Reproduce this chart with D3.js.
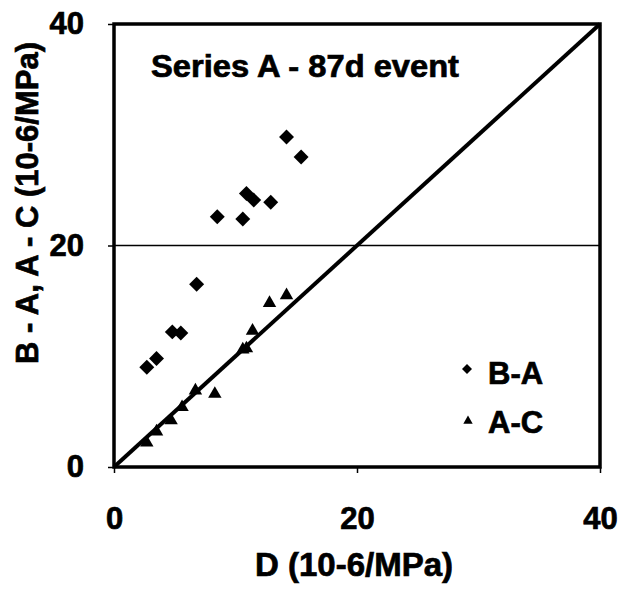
<!DOCTYPE html>
<html>
<head>
<meta charset="utf-8">
<script src="https://cdn.jsdelivr.net/npm/d3@7"></script>
<style>
  body { margin: 0; background: #fff; }
  text { font-family: "Liberation Sans", Arial, sans-serif; font-weight: bold; fill: #000; stroke: #000; stroke-width: 0.7px; }
</style>
</head>
<body>
<svg width="619" height="599"></svg>
<script>
// B-A series (diamonds)
const baD = [2.7, 3.5, 4.8, 5.5, 6.8, 8.5, 10.6, 10.9, 11.5, 12.9, 14.2, 15.4];
const baV = [9.0, 9.8, 12.2, 12.1, 16.5, 22.6, 22.4, 24.7, 24.1, 23.9, 29.8, 28.0];
// A-C series (triangles)
const acD = [2.7, 3.5, 4.7, 5.6, 6.7, 8.3, 10.6, 10.9, 11.4, 12.8, 14.2];
const acV = [2.2, 3.2, 4.2, 5.4, 6.9, 6.6, 10.6, 10.7, 12.3, 14.8, 15.5];

const ticks = [0, 20, 40];
const gridAt = [20];
const legendNames = ["B-A", "A-C"];

var svg = d3.select("svg");

var x = d3.scaleLinear().domain([0, 40]).range([114, 600]);
var y = d3.scaleLinear().domain([0, 40]).range([467, 24]);

// horizontal gridline
svg.selectAll(".grid")
    .data(gridAt)
    .join("line")
    .attr("x1", x(0)).attr("x2", x(40))
    .attr("y1", d => y(d)).attr("y2", d => y(d))
    .attr("stroke", "#000").attr("stroke-width", 1.5);

// axes (ticks + labels only, frame drawn below)
var xAxis = svg.append("g")
    .attr("transform", "translate(0," + y(0) + ")")
    .call(d3.axisBottom(x).tickValues(ticks).tickSizeOuter(0).tickSize(6).tickPadding(34));
var yAxis = svg.append("g")
    .attr("transform", "translate(" + x(0) + ",0)")
    .call(d3.axisLeft(y).tickValues(ticks).tickSizeOuter(0).tickSize(6).tickPadding(24));

[xAxis, yAxis].forEach(g => {
    g.select(".domain").remove();
    g.selectAll("line").attr("stroke", "#000").attr("stroke-width", 1.5);
    g.selectAll("text")
        .attr("font-size", 31)
        .style("font-family", "'Liberation Sans', Arial, sans-serif")
        .style("font-weight", "bold");
});

// 1:1 line
svg.append("line")
    .attr("x1", x(0)).attr("y1", y(0))
    .attr("x2", x(40)).attr("y2", y(40))
    .attr("stroke", "#000").attr("stroke-width", 4);

// plot frame
svg.append("rect")
    .attr("x", x(0)).attr("y", y(40))
    .attr("width", x(40) - x(0)).attr("height", y(0) - y(40))
    .attr("fill", "none").attr("stroke", "#000").attr("stroke-width", 3.5);

var diamond = d3.symbol().type(d3.symbolSquare);
var triangle = d3.symbol().type(d3.symbolTriangle);

svg.selectAll(".ba")
    .data(baD.map((d, i) => [d, baV[i]]))
    .join("path")
    .attr("d", diamond.size(112)())
    .attr("transform", d => "translate(" + x(d[0]) + "," + y(d[1]) + ") rotate(45)")
    .attr("fill", "#000");

svg.selectAll(".ac")
    .data(acD.map((d, i) => [d, acV[i]]))
    .join("path")
    .attr("d", triangle.size(78)())
    .attr("transform", d => "translate(" + x(d[0]) + "," + y(d[1]) + ")")
    .attr("fill", "#000");

// title inside plot
svg.append("text")
    .attr("x", 151).attr("y", 77)
    .attr("font-size", 31)
    .attr("textLength", 308).attr("lengthAdjust", "spacingAndGlyphs")
    .text("Series A - 87d event");

// legend
var legend = svg.append("g");
legend.append("path")
    .attr("d", diamond.size(50)())
    .attr("transform", "translate(467,369) rotate(45)");
legend.append("path")
    .attr("d", triangle.size(38)())
    .attr("transform", "translate(468,421)");
legend.selectAll("text")
    .data(legendNames)
    .join("text")
    .attr("x", 488)
    .attr("y", (d, i) => 384 + i * 49)
    .attr("font-size", 31)
    .text(d => d);

// axis titles
svg.append("text")
    .attr("x", 354).attr("y", 576)
    .attr("text-anchor", "middle")
    .attr("font-size", 33)
    .text("D (10-6/MPa)");

svg.append("text")
    .attr("transform", "translate(38,203) rotate(-90)")
    .attr("text-anchor", "middle")
    .attr("font-size", 31)
    .text("B - A, A - C (10-6/MPa)");
</script>
</body>
</html>
